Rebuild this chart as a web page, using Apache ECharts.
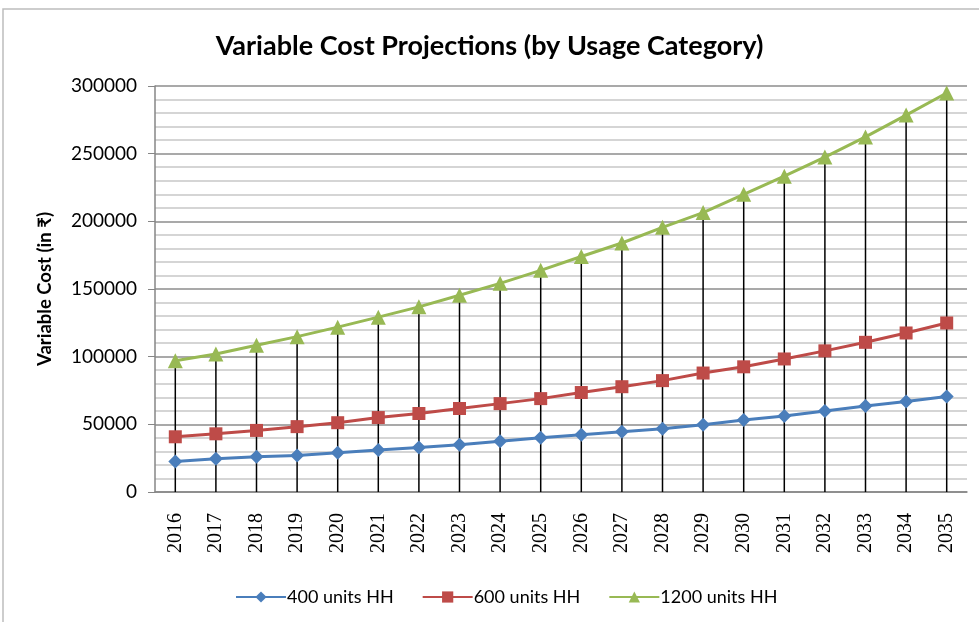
<!DOCTYPE html>
<html>
<head>
<meta charset="utf-8">
<script src="https://cdn.jsdelivr.net/npm/echarts@6/dist/echarts.min.js"></script>
<style>
  html, body { margin: 0; padding: 0; background: #fff; }
  #chart { width: 979px; height: 622px; }
</style>
</head>
<body>
<div id="chart"></div>
<script>
const years = ['2016', '2017', '2018', '2019', '2020', '2021', '2022', '2023', '2024', '2025',
  '2026', '2027', '2028', '2029', '2030', '2031', '2032', '2033', '2034', '2035']

const units400 = [22500, 24500, 26000, 27000, 29000, 31000, 32800, 35000, 37500, 40000,
  42300, 44600, 46800, 49700, 53200, 56200, 59900, 63500, 66800, 70600]
const units600 = [40800, 43000, 45500, 48300, 51200, 55000, 58000, 61700, 65300, 69000,
  73500, 77800, 82300, 87900, 92500, 98300, 104300, 110600, 117500, 124900]
const units1200 = [97000, 102000, 108500, 114800, 121800, 129200, 136800, 145400, 154200, 163800,
  174000, 184000, 195600, 206500, 220000, 233400, 247500, 262400, 278500, 294800]

const yTicks = { min: 0, max: 300000, step: 50000 }

const chart = echarts.init(document.getElementById('chart'))

const lineSeries = (name, data, color, symbol, size) => ({
  name,
  type: 'line',
  data,
  symbol,
  symbolSize: size,
  z: 3,
  lineStyle: { width: 3, color },
  itemStyle: { color },
})

chart.setOption({
  animation: false,
  textStyle: { fontFamily: 'Lato' },
  graphic: [{
    type: 'rect',
    shape: { x: 3, y: 9, width: 1000, height: 700 },
    style: { fill: 'none', stroke: '#bdbdbd', lineWidth: 1.5 },
    silent: true,
  }],
  title: {
    text: 'Variable Cost Projections (by Usage Category)',
    left: 'center',
    top: 28,
    textStyle: { fontFamily: 'Lato', fontWeight: 'bold', fontSize: 27, color: '#000' },
  },
  legend: {
    bottom: 11,
    left: 230,
    itemWidth: 50,
    itemHeight: 14,
    itemGap: 28,
    data: ['400 units HH', '600 units HH', '1200 units HH'],
    textStyle: { fontFamily: 'Lato', fontSize: 18, color: '#000', padding: [0, 0, 0, -4] },
  },
  grid: { left: 155, right: 12, top: 86, bottom: 130 },
  xAxis: {
    type: 'category',
    data: years,
    boundaryGap: true,
    axisLine: { lineStyle: { color: '#868686', width: 1.5 } },
    axisTick: { show: false },
    axisLabel: {
      rotate: 90,
      margin: 21,
      fontFamily: 'Liberation Serif',
      fontSize: 20,
      color: '#000',
    },
    splitLine: { show: false },
  },
  yAxis: {
    type: 'value',
    min: yTicks.min,
    max: yTicks.max,
    interval: yTicks.step,
    name: 'Variable Cost (in ₹)',
    nameLocation: 'middle',
    nameGap: 100,
    nameTextStyle: { fontFamily: 'Lato', fontWeight: 'bold', fontSize: 18.5, color: '#000' },
    axisLine: { show: true, lineStyle: { color: '#868686', width: 1.5 } },
    axisTick: { show: true, length: 7, lineStyle: { color: '#868686' } },
    axisLabel: {
      margin: 18,
      fontFamily: 'Lato',
      fontSize: 19,
      color: '#000',
      formatter: v => String(v),
    },
    splitLine: { lineStyle: { color: '#8c8c8c', width: 1.5 } },
    minorTick: { show: false, splitNumber: 5 },
    minorSplitLine: { show: true, lineStyle: { color: '#c8c8c8', width: 1.5 } },
  },
  series: [
    {
      name: 'drop',
      type: 'bar',
      data: units1200,
      barWidth: 1.5,
      z: 1,
      silent: true,
      itemStyle: { color: '#000' },
    },
    lineSeries('400 units HH', units400, '#4a7ebb', 'diamond', 14),
    lineSeries('600 units HH', units600, '#be4b48', 'rect', 13),
    lineSeries('1200 units HH', units1200, '#98b954', 'triangle', 15),
  ],
})
</script>
</body>
</html>
